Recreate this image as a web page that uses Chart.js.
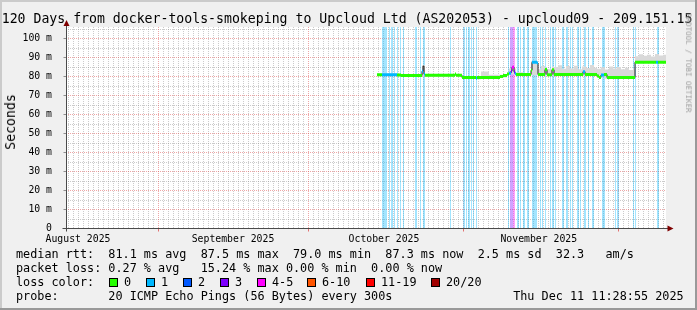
<!DOCTYPE html>
<html><head><meta charset="utf-8">
<script src="https://cdn.jsdelivr.net/npm/chart.js@4.4.1/dist/chart.umd.min.js"></script>
<style>
html,body{margin:0;padding:0;}
body{width:697px;height:310px;overflow:hidden;position:relative;background:#f0f0f0;font-family:'DejaVu Sans Mono',monospace;color:#000;}
#c{position:absolute;left:0;top:0;}
.t{position:absolute;white-space:pre;margin:0;}
#title{left:1.7px;top:10.7px;font-size:13.2px;line-height:16px;}
#legend{left:16px;top:247.2px;font-size:11.8px;line-height:14px;}
.box{position:absolute;width:7px;height:7px;border:1px solid #000;top:278px;}
.lab{position:absolute;top:275.2px;font-size:11.8px;line-height:14px;white-space:pre;}
#ylab{font-size:13.2px;line-height:14px;left:10.5px;top:122px;transform:translate(-50%,-50%) rotate(-90deg);}
#wm{font-size:7.5px;line-height:8px;color:#a0a0a0;left:687.5px;top:63px;transform:translate(-50%,-50%) rotate(90deg);}
</style></head>
<body>
<canvas id="c" width="697" height="310"></canvas>
<div class="t" id="title"></div>
<div class="t" id="ylab">Seconds</div>
<div class="t" id="wm">RRDTOOL / TOBI OETIKER</div>
<pre class="t" id="legend"></pre>
<div id="lossLegend"></div>
<script>
// ---- data (days since start of 120-day window) ----
const titleText = "120 Days from docker-tools-smokeping to Upcloud Ltd (AS202053) - upcloud09 - 209.151.15";
const monthDays = [2.4, 33.4, 63.6, 94.56];
const monthLabels = ["August 2025", "September 2025", "October 2025", "November 2025"];
const majorDays = [18.46, 48.46, 79.46, 110.46];
const yTicks = [0, 10, 20, 30, 40, 50, 60, 70, 80, 90, 100];
const yTickLabels = ["0", "10 m", "20 m", "30 m", "40 m", "50 m", "60 m", "70 m", "80 m", "90 m", "100 m"];
const minorY = [5, 15, 25, 35, 45, 55, 65, 75, 85, 95, 105];

const medDays = [62.2, 63.2, 66.2, 67.0, 71.2, 71.4, 71.6, 71.8, 77.8, 78.0, 79.2, 82.0, 82.2, 86.8, 87.4, 88.2, 88.6, 89.0, 89.2, 89.6, 89.8, 90.0, 93.0, 93.2, 94.2, 94.4, 95.8, 96.2, 97.2, 97.6, 103.4, 103.8, 106.2, 106.6, 107.0, 107.6, 108.2, 113.8, 118.0, 118.4];
const medVals = [80.6, 80.6, 80.5, 80.3, 82.5, 85.2, 81.0, 80.4, 81.0, 80.4, 79.2, 78.8, 79.2, 79.8, 80.3, 81.0, 81.5, 82.6, 84.6, 82.2, 81.2, 80.8, 83.0, 87.2, 86.8, 80.8, 83.4, 80.7, 83.3, 80.8, 82.3, 80.8, 80.0, 79.2, 80.5, 80.8, 79.2, 87.3, 87.3, 87.3];
const medLoss = [0, 1, 0, 0, 1, 1, 1, 0, 0, 0, 0, 1, 0, 0, 0, 0, 1, 3, 5, 3, 1, 0, 0, 1, 1, 0, 0, 0, 0, 0, 1, 0, 0, 0, 1, 0, 0, 0, 1, 0];

const smokeDays = [62.2, 63.2, 66.2, 67.0, 71.2, 71.8, 77.8, 78.0, 79.2, 82.0, 83.0, 84.6, 86.8, 88.2, 88.6, 90.0, 91.4, 93.0, 94.4, 95.0, 95.8, 96.2, 97.2, 97.6, 98.4, 99.2, 100.0, 100.8, 101.6, 102.4, 103.2, 104.0, 104.8, 105.6, 106.2, 107.0, 107.8, 108.6, 109.4, 110.2, 111.0, 111.8, 112.6, 113.4, 113.8, 114.6, 115.4, 116.2, 117.0, 117.8, 118.6, 119.4];
const smokeHi = [81.2, 81.3, 81.0, 80.8, 85.6, 81.0, 81.6, 80.9, 79.8, 79.6, 82.4, 80.6, 80.6, 81.8, 84.0, 82.0, 81.6, 87.9, 83.6, 85.2, 84.4, 83.6, 85.0, 84.8, 85.6, 83.8, 85.2, 84.0, 85.4, 83.6, 85.0, 84.2, 85.8, 84.4, 83.8, 84.6, 83.4, 85.0, 84.0, 84.8, 83.6, 84.4, 83.2, 84.0, 90.4, 91.4, 90.6, 91.2, 90.2, 91.6, 90.8, 91.2];
const smokeLo = [80.0, 80.0, 79.9, 79.8, 80.0, 79.8, 80.0, 79.8, 78.6, 78.3, 78.6, 78.6, 79.2, 80.4, 80.9, 80.2, 80.2, 80.4, 80.2, 80.2, 80.2, 80.1, 80.2, 80.2, 80.2, 80.2, 80.2, 80.2, 80.2, 80.2, 80.2, 80.2, 80.2, 80.2, 79.4, 79.8, 78.6, 78.6, 78.6, 78.6, 78.6, 78.6, 78.6, 78.6, 86.8, 86.8, 86.8, 86.8, 86.8, 86.8, 86.8, 86.8];

const lossStart = [63.2, 64.6, 65.0, 65.6, 66.2, 66.8, 67.34, 69.8, 70.8, 71.4, 76.8, 79.4, 80.0, 80.4, 81.0, 81.4, 82.0, 88.4, 88.8, 89.3, 90.14, 90.4, 90.8, 91.34, 91.6, 92.14, 92.4, 93.14, 94.8, 95.14, 95.8, 96.8, 97.2, 97.4, 97.8, 99.14, 99.4, 100.0, 100.8, 101.14, 102.14, 102.4, 102.8, 103.6, 104.4, 105.14, 105.4, 107.14, 109.8, 110.14, 110.4, 113.4, 113.8, 118.14];
const lossEnd   = [64.2, 64.8, 65.34, 65.8, 66.4, 67.0, 67.54, 70.2, 71.0, 71.7, 77.0, 79.7, 80.2, 80.7, 81.2, 81.6, 82.2, 88.6, 89.3, 89.8, 90.34, 90.6, 91.0, 91.54, 91.8, 92.34, 92.6, 94.2, 95.0, 95.34, 96.0, 97.0, 97.4, 97.6, 98.0, 99.34, 99.6, 100.3, 101.0, 101.34, 102.34, 102.6, 103.0, 103.9, 104.6, 105.34, 105.6, 107.8, 110.0, 110.34, 110.6, 113.6, 114.0, 118.5];
const lossLevel = [1, 1, 1, 1, 1, 1, 1, 1, 1, 1, 1, 1, 1, 1, 1, 1, 1, 1, 3, 5, 1, 1, 1, 1, 1, 1, 1, 1, 1, 1, 1, 1, 1, 1, 1, 1, 1, 1, 1, 1, 1, 1, 1, 1, 1, 1, 1, 1, 1, 1, 1, 1, 1, 1];

const lossLegendLabels = ["0", "1", "2", "3", "4-5", "6-10", "11-19", "20/20"];
const lossLegendColors = ["#26ff00", "#00b8ff", "#0059ff", "#7e00ff", "#ff00ff", "#ff5500", "#ff0000", "#a10000"];
const legendLines = [
  "median rtt:  81.1 ms avg  87.5 ms max  79.0 ms min  87.3 ms now  2.5 ms sd  32.3   am/s",
  "packet loss: 0.27 % avg   15.24 % max 0.00 % min  0.00 % now",
  "loss color:",
  "probe:       20 ICMP Echo Pings (56 Bytes) every 300s                 Thu Dec 11 11:28:55 2025"
];

// ---- helpers ----
function lossIndex(n){ if(n<=0)return 0; if(n<=3)return n; if(n<=5)return 4; if(n<=10)return 5; if(n<=19)return 6; return 7; }
function lossColor(n){ return lossLegendColors[lossIndex(n)]; }
function lossBg(n){ const c=lossColor(n); const r=parseInt(c.slice(1,3),16),g=parseInt(c.slice(3,5),16),b=parseInt(c.slice(5,7),16); return `rgba(${r},${g},${b},0.36)`; }

document.getElementById('title').textContent = titleText;
document.getElementById('legend').textContent = legendLines.join("\n");
const boxLefts = [109, 146, 183, 220, 257, 307, 366, 431];
const ll = document.getElementById('lossLegend');
lossLegendLabels.forEach((lab,i)=>{
  const b=document.createElement('div'); b.className='box'; b.style.left=boxLefts[i]+'px'; b.style.background=lossLegendColors[i]; ll.appendChild(b);
  const s=document.createElement('div'); s.className='lab'; s.style.left=(boxLefts[i]+15)+'px'; s.textContent=lab; ll.appendChild(s);
});

// datasets from arrays
const medPts = medDays.map((d,i)=>({x:d,y:medVals[i]}));
medPts.push({x:120,y:medVals[medVals.length-1]});
const segData=[], segLoss=[];
medDays.forEach((d,i)=>{
  const e = i+1<medDays.length ? medDays[i+1] : 120;
  segData.push({x:d,y:medVals[i]},{x:e,y:medVals[i]},{x:e,y:null});
  segLoss.push(medLoss[i],medLoss[i],medLoss[i]);
});
const hiPts = smokeDays.map((d,i)=>({x:d,y:smokeHi[i]})); hiPts.push({x:120,y:smokeHi[smokeHi.length-1]});
const loPts = smokeDays.map((d,i)=>({x:d,y:smokeLo[i]})); loPts.push({x:120,y:smokeLo[smokeLo.length-1]});

const P = v => Math.round(v)+0.5;
const rrdPlugin = {
  id:'rrd',
  beforeDraw(chart){
    const {ctx, chartArea:a} = chart, W=chart.width, H=chart.height;
    ctx.save();
    ctx.fillStyle='#f0f0f0'; ctx.fillRect(0,0,W,H);
    ctx.fillStyle='#cbcbcb'; ctx.fillRect(0,0,W,2); ctx.fillRect(0,0,2,H);
    ctx.fillStyle='#999999'; ctx.fillRect(0,H-2,W,2); ctx.fillRect(W-2,0,2,H);
    ctx.fillStyle='#ffffff'; ctx.fillRect(a.left,Math.round(a.top),a.right-a.left,a.bottom-Math.round(a.top));
    ctx.restore();
  },
  beforeDatasetsDraw(chart){
    const {ctx, chartArea:a, scales:{x,y}} = chart;
    const top=Math.round(a.top);
    ctx.save(); ctx.lineWidth=1;
    ctx.setLineDash([1,1]);
    ctx.strokeStyle='rgba(143,143,143,0.45)';
    ctx.beginPath();
    for(let k=0;k<=120;k++){
      const d = majorDays[0]%1 + k;
      if(d>120) break;
      if(majorDays.some(m=>Math.abs(m-d)<0.01)) continue;
      const X=P(x.getPixelForValue(d)); ctx.moveTo(X,top); ctx.lineTo(X,a.bottom);
    }
    minorY.forEach(v=>{const Y=P(y.getPixelForValue(v)); ctx.moveTo(a.left,Y); ctx.lineTo(a.right,Y);});
    ctx.stroke();
    ctx.strokeStyle='rgba(222,80,80,0.5)';
    ctx.beginPath();
    majorDays.forEach(d=>{const X=P(x.getPixelForValue(d)); ctx.moveTo(X,top); ctx.lineTo(X,a.bottom);});
    yTicks.forEach(v=>{ if(v===0) return; const Y=P(y.getPixelForValue(v)); ctx.moveTo(a.left,Y); ctx.lineTo(a.right,Y);});
    ctx.stroke();
    ctx.setLineDash([]);
    for(let i=0;i<lossStart.length;i++){
      const x0=Math.round(x.getPixelForValue(lossStart[i]));
      const x1=Math.max(x0+1,Math.round(x.getPixelForValue(lossEnd[i])));
      ctx.fillStyle=lossBg(lossLevel[i]);
      ctx.fillRect(x0,top,x1-x0,a.bottom-top);
    }
    ctx.restore();
  },
  afterDatasetsDraw(chart){
    const {ctx, chartArea:a, scales:{x,y}} = chart;
    const ax=P(a.left), ay=P(a.bottom);
    ctx.save(); ctx.lineWidth=1;
    ctx.strokeStyle='#8f8f8f';
    ctx.beginPath();
    yTicks.forEach(v=>{ if(v===0) return; const Y=P(y.getPixelForValue(v)); ctx.moveTo(ax-3,Y); ctx.lineTo(ax,Y);});
    ctx.stroke();
    ctx.strokeStyle='rgba(222,80,80,0.8)';
    ctx.beginPath();
    majorDays.forEach(d=>{const X=P(x.getPixelForValue(d)); ctx.moveTo(X,ay); ctx.lineTo(X,ay+3);});
    ctx.stroke();
    ctx.strokeStyle='#4a4a4a';
    ctx.beginPath();
    ctx.moveTo(ax-4,ay); ctx.lineTo(a.right+4,ay);
    ctx.moveTo(ax,ay+3); ctx.lineTo(ax,a.top-3);
    ctx.stroke();
    ctx.fillStyle='#7f0000';
    ctx.beginPath(); ctx.moveTo(ax,a.top-6.5); ctx.lineTo(ax-3,a.top-0.5); ctx.lineTo(ax+3,a.top-0.5); ctx.closePath(); ctx.fill();
    ctx.beginPath(); ctx.moveTo(a.right+7.5,ay); ctx.lineTo(a.right+1.5,ay-3); ctx.lineTo(a.right+1.5,ay+3); ctx.closePath(); ctx.fill();
    ctx.restore();
  }
};

const tickFont = {family:"'DejaVu Sans Mono', monospace", size:9.8};
new Chart(document.getElementById('c'), {
  type:'line',
  data:{datasets:[
    {label:'median (loss colour)', data:segData, borderWidth:3, borderColor:'#26ff00', borderCapStyle:'butt',
     segment:{borderColor:c=>lossColor(segLoss[c.p0DataIndex])}, pointRadius:0, spanGaps:false, fill:false},
    {label:'median', data:medPts, stepped:true, borderWidth:1, borderColor:'#202020', pointRadius:0, fill:false},
    {label:'smoke hi', data:hiPts, stepped:true, borderWidth:0, borderColor:'rgba(0,0,0,0)', backgroundColor:'#d9d9d9', fill:'+1', pointRadius:0},
    {label:'smoke lo', data:loPts, stepped:true, borderWidth:0, borderColor:'rgba(0,0,0,0)', pointRadius:0, fill:false}
  ]},
  options:{
    responsive:false, animation:false, devicePixelRatio:1, events:[],
    plugins:{legend:{display:false}, tooltip:{enabled:false}},
    layout:{padding:{left:0,right:31,top:26.6,bottom:0}},
    scales:{
      x:{type:'linear', min:0, max:120, grid:{display:false}, border:{display:false},
         afterBuildTicks:s=>{s.ticks=monthDays.map(v=>({value:v}));},
         afterFit:s=>{s.height=82;},
         ticks:{autoSkip:false, maxRotation:0, minRotation:0, padding:-2, color:'#000', font:tickFont, callback:(v,i)=>monthLabels[i]}},
      y:{min:0, max:106, grid:{display:false}, border:{display:false},
         afterBuildTicks:s=>{s.ticks=yTicks.map(v=>({value:v}));},
         afterFit:s=>{s.width=66;},
         ticks:{padding:6, color:'#000', font:tickFont, callback:(v,i)=>yTickLabels[i]}}
    }
  },
  plugins:[rrdPlugin]
});
</script>
</body></html>
